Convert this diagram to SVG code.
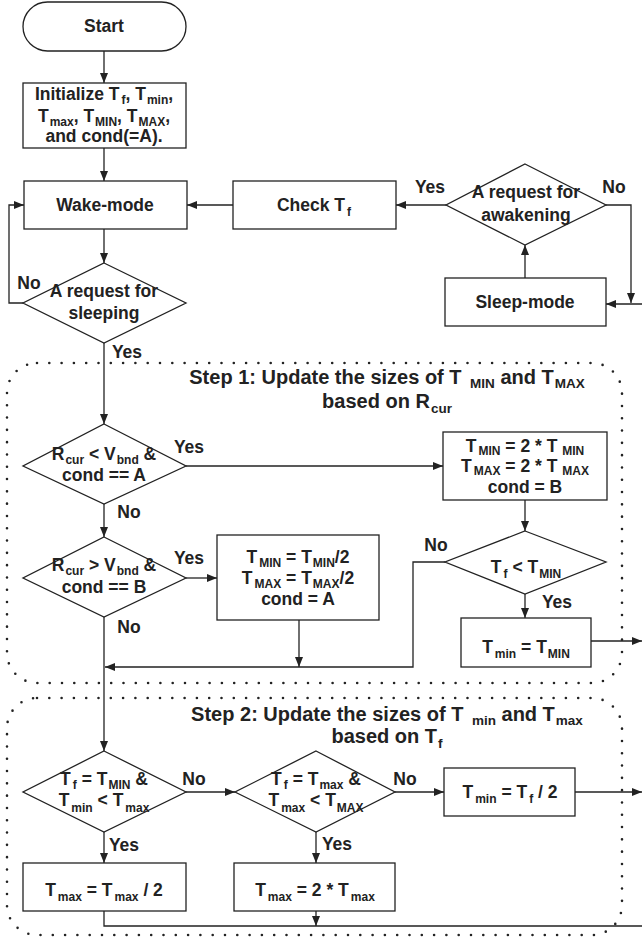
<svg xmlns="http://www.w3.org/2000/svg" width="642" height="938" viewBox="0 0 642 938">
<defs>
<marker id="a" viewBox="0 0 10 8" refX="10" refY="4" markerWidth="10" markerHeight="8" markerUnits="userSpaceOnUse" orient="auto"><path d="M0,0 L10,4 L0,8 z" fill="#222"/></marker>
<style>
.n{fill:#fff;stroke:#222;stroke-width:1.3}
.t{font-family:"Liberation Sans",Arial,sans-serif;font-weight:bold;font-size:17.5px;fill:#222;text-anchor:middle}
.s{font-size:12px}
.h{font-size:20px}
.h .s{font-size:13.5px}
.c path{fill:none;stroke:#222;stroke-width:1.3}
.ar{marker-end:url(#a)}
.d{fill:none;stroke:#222;stroke-width:2.6;stroke-dasharray:0 12.3;stroke-linecap:round}
</style>
</defs>
<rect fill="#fff" width="642" height="938"/>
<g id="regions">
<rect class="d" x="7" y="363" width="615" height="320" rx="30"/>
<rect class="d" x="7" y="698" width="615" height="237" rx="30"/>
<text class="t h" x="387" y="384">Step 1: Update the sizes of T <tspan class="s" dx="3" dy="4">MIN</tspan><tspan dy="-4"> and T</tspan><tspan class="s" dx="1" dy="4">MAX</tspan></text>
<text class="t h" x="387" y="408">based on R<tspan class="s" dx="1" dy="5">cur</tspan></text>
<text class="t h" x="387" y="721">Step 2: Update the sizes of T <tspan class="s" dx="3" dy="4">min</tspan><tspan dy="-4"> and T</tspan><tspan class="s" dx="1" dy="4">max</tspan></text>
<text class="t h" x="387" y="743">based on T<tspan class="s" dx="1" dy="5">f</tspan></text>
</g>
<g id="connectors" class="c">
<path class="ar" d="M104,51V83"/>
<path class="ar" d="M104,148V181"/>
<path class="ar" d="M104,229V263"/>
<path class="ar" d="M23,303H9V205H24"/>
<path class="ar" d="M104,343V424"/>
<path class="ar" d="M233,205H187"/>
<path class="ar" d="M446,205H396"/>
<path class="ar" d="M606,205H631V303"/>
<path class="ar" d="M642,304H606"/>
<path class="ar" d="M525,278V245"/>
<path class="ar" d="M186,466H443"/>
<path class="ar" d="M104,504V537"/>
<path class="ar" d="M525,500V531"/>
<path class="ar" d="M186,578H217"/>
<path class="ar" d="M445,562H413V667H105"/>
<path class="ar" d="M299,620V667"/>
<path class="ar" d="M104,617V751"/>
<path class="ar" d="M525,594V618"/>
<path class="ar" d="M591,641H642"/>
<path class="ar" d="M186,792H235"/>
<path class="ar" d="M395,792H444"/>
<path class="ar" d="M575,792H642"/>
<path class="ar" d="M104,832V863"/>
<path class="ar" d="M316,832V863"/>
<path d="M104,911V926H642"/>
<path class="ar" d="M316,911V926"/>
</g>
<g id="labels">
<text class="t" x="29" y="289">No</text>
<text class="t" x="127" y="358">Yes</text>
<text class="t" x="430" y="193">Yes</text>
<text class="t" x="614" y="193">No</text>
<text class="t" x="189" y="453">Yes</text>
<text class="t" x="129" y="518">No</text>
<text class="t" x="189" y="564">Yes</text>
<text class="t" x="129" y="633">No</text>
<text class="t" x="436" y="551">No</text>
<text class="t" x="557" y="608">Yes</text>
<text class="t" x="194" y="785">No</text>
<text class="t" x="405" y="785">No</text>
<text class="t" x="124" y="851">Yes</text>
<text class="t" x="337" y="850">Yes</text>
</g>
<g id="start">
<rect class="n" x="23" y="2" width="163" height="49" rx="24.5"/>
<text class="t" x="104" y="32">Start</text>
</g>
<g id="init">
<rect class="n" x="23" y="83" width="163" height="65"/>
<text class="t" x="104" y="100">Initialize T<tspan class="s" dx="2" dy="4">f</tspan><tspan dy="-4">, T</tspan><tspan class="s" dx="1" dy="4">min</tspan><tspan dy="-4">,</tspan></text>
<text class="t" x="104" y="122">T<tspan class="s" dx="1" dy="4">max</tspan><tspan dy="-4">, T</tspan><tspan class="s" dx="1" dy="4">MIN</tspan><tspan dy="-4">, T</tspan><tspan class="s" dx="1" dy="4">MAX</tspan><tspan dy="-4">,</tspan></text>
<text class="t" x="104" y="142">and cond(=A).</text>
</g>
<g id="wake">
<rect class="n" x="24" y="181" width="163" height="48"/>
<text class="t" x="105" y="211">Wake-mode</text>
</g>
<g id="sleepq">
<path class="n" d="M104,263L186,303L104,343L23,303Z"/>
<text class="t" x="104" y="297">A request for</text>
<text class="t" x="104" y="319">sleeping</text>
</g>
<g id="check">
<rect class="n" x="233" y="181" width="163" height="48"/>
<text class="t" x="314" y="211">Check T<tspan class="s" dx="2" dy="5">f</tspan></text>
</g>
<g id="awakeq">
<path class="n" d="M525,164L606,205L525,245L446,205Z"/>
<text class="t" x="526" y="198">A request for</text>
<text class="t" x="526" y="221">awakening</text>
</g>
<g id="sleep">
<rect class="n" x="445" y="278" width="161" height="48"/>
<text class="t" x="525" y="308">Sleep-mode</text>
</g>
<g id="q1">
<path class="n" d="M104,424L186,466L104,504L23,466Z"/>
<text class="t" x="104" y="460">R<tspan class="s" dx="1" dy="4">cur</tspan><tspan dy="-4"> &lt; V</tspan><tspan class="s" dx="1" dy="4">bnd</tspan><tspan dy="-4"> &amp;</tspan></text>
<text class="t" x="104" y="481">cond == A</text>
</g>
<g id="b1">
<rect class="n" x="443" y="432" width="164" height="68"/>
<text class="t" x="525" y="452">T<tspan class="s" dx="2" dy="3">MIN</tspan><tspan dy="-3"> = 2 * T </tspan><tspan class="s" dy="3">MIN</tspan></text>
<text class="t" x="525" y="472">T<tspan class="s" dx="2" dy="3">MAX</tspan><tspan dy="-3"> = 2 * T </tspan><tspan class="s" dy="3">MAX</tspan></text>
<text class="t" x="525" y="493">cond = B</text>
</g>
<g id="q2">
<path class="n" d="M104,537L186,578L104,617L23,578Z"/>
<text class="t" x="104" y="571">R<tspan class="s" dx="1" dy="4">cur</tspan><tspan dy="-4"> &gt; V</tspan><tspan class="s" dx="1" dy="4">bnd</tspan><tspan dy="-4"> &amp;</tspan></text>
<text class="t" x="104" y="593">cond == B</text>
</g>
<g id="b2">
<rect class="n" x="217" y="535" width="162" height="85"/>
<text class="t" x="298" y="563">T<tspan class="s" dx="2" dy="4">MIN</tspan><tspan dy="-4"> = T</tspan><tspan class="s" dx="1" dy="4">MIN</tspan><tspan dy="-4">/2</tspan></text>
<text class="t" x="298" y="584">T<tspan class="s" dx="2" dy="4">MAX</tspan><tspan dy="-4"> = T</tspan><tspan class="s" dx="1" dy="4">MAX</tspan><tspan dy="-4">/2</tspan></text>
<text class="t" x="298" y="605">cond = A</text>
</g>
<g id="q3">
<path class="n" d="M525,531L606,562L525,594L445,562Z"/>
<text class="t" x="526" y="573">T<tspan class="s" dx="2" dy="5">f</tspan><tspan dy="-5"> &lt; T</tspan><tspan class="s" dx="1" dy="5">MIN</tspan></text>
</g>
<g id="b3">
<rect class="n" x="461" y="618" width="130" height="49"/>
<text class="t" x="526" y="653">T<tspan class="s" dx="2" dy="5">min</tspan><tspan dy="-5"> = T</tspan><tspan class="s" dx="1" dy="5">MIN</tspan></text>
</g>
<g id="q4">
<path class="n" d="M104,751L186,792L104,832L23,792Z"/>
<text class="t" x="104" y="785">T<tspan class="s" dx="2" dy="4">f</tspan><tspan dy="-4"> = T</tspan><tspan class="s" dx="1" dy="4">MIN</tspan><tspan dy="-4"> &amp;</tspan></text>
<text class="t" x="104" y="806">T<tspan class="s" dx="2" dy="6">min</tspan><tspan dy="-6"> &lt; T</tspan><tspan class="s" dx="2" dy="6">max</tspan></text>
</g>
<g id="q5">
<path class="n" d="M316,751L395,792L316,832L235,792Z"/>
<text class="t" x="316" y="785">T<tspan class="s" dx="2" dy="4">f</tspan><tspan dy="-4"> = T</tspan><tspan class="s" dx="1" dy="4">max</tspan><tspan dy="-4"> &amp;</tspan></text>
<text class="t" x="316" y="806">T<tspan class="s" dx="2" dy="6">max</tspan><tspan dy="-6"> &lt; T</tspan><tspan class="s" dx="1" dy="6">MAX</tspan></text>
</g>
<g id="b4">
<rect class="n" x="444" y="768" width="131" height="48"/>
<text class="t" x="510" y="798">T<tspan class="s" dx="2" dy="5">min</tspan><tspan dy="-5"> = T</tspan><tspan class="s" dx="2" dy="5">f</tspan><tspan dy="-5"> / 2</tspan></text>
</g>
<g id="b5">
<rect class="n" x="23" y="863" width="163" height="48"/>
<text class="t" x="104" y="896">T<tspan class="s" dx="2" dy="5">max</tspan><tspan dy="-5"> = T</tspan><tspan class="s" dx="2" dy="5">max</tspan><tspan dy="-5"> / 2</tspan></text>
</g>
<g id="b6">
<rect class="n" x="234" y="863" width="161" height="48"/>
<text class="t" x="315" y="896">T<tspan class="s" dx="2" dy="5">max</tspan><tspan dy="-5"> = 2 * T</tspan><tspan class="s" dx="2" dy="5">max</tspan></text>
</g>
</svg>
